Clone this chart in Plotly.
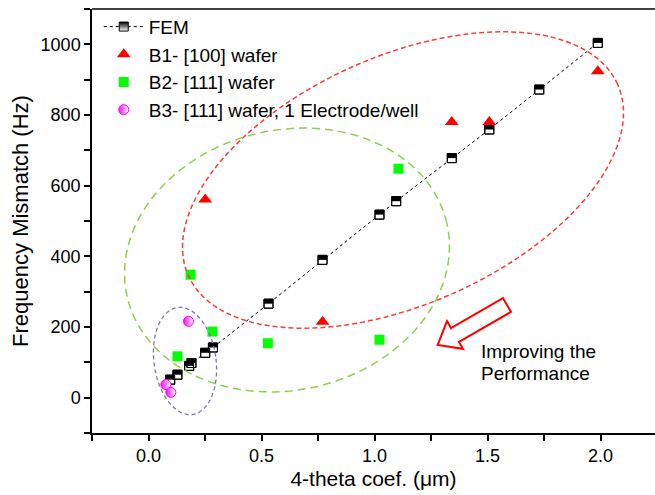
import numpy as np
import plotly.graph_objects as go

# ---------------- data ----------------
fem_x = [0.096, 0.128, 0.180, 0.190, 0.251, 0.285, 0.531, 0.770, 1.022, 1.096, 1.342, 1.508, 1.729, 1.988]
fem_y = [51, 65, 90, 98, 127, 142, 266, 390, 518, 556, 678, 759, 872, 1004]

b1_x = [0.251, 0.770, 1.342, 1.508, 1.988]
b1_y = [561, 215, 780, 780, 924]

b2_x = [0.128, 0.186, 0.283, 0.528, 1.022, 1.106]
b2_y = [117, 348, 187, 154, 164, 648]

b3_x = [0.077, 0.099, 0.177]
b3_y = [37, 15, 216]

x_tickvals = [-0.25, 0.0, 0.25, 0.5, 0.75, 1.0, 1.25, 1.5, 1.75, 2.0, 2.25]
x_ticktext = ["", "0.0", "", "0.5", "", "1.0", "", "1.5", "", "2.0", ""]
y_tickvals = list(range(-100, 1101, 100))
y_ticktext = [str(v) if v % 200 == 0 and 0 <= v <= 1000 else "" for v in y_tickvals]

legend_names = ["FEM", "B1- [100] wafer", "B2- [111] wafer", "B3- [111] wafer, 1 Electrode/well"]
note_lines = ["Improving the", "Performance"]

# ---------------- layout geometry ----------------
W, H = 655, 495
ML, MR, MT, MB = 92, 0, 9, 62
X0 = -0.25
SX = 226.0                      # px per x unit
X1 = X0 + (W - ML - MR) / SX
Y0, Y1 = -100, 1100
SY = (H - MT - MB) / (Y1 - Y0)  # px per y unit

FONT = "Liberation Sans, Arial, sans-serif"
FEM_SIZE = 9                    # marker size in px
HALF_UNITS = (FEM_SIZE / 2) / SY  # half marker height in y units (for top-half fill)


def px2data(px, py):
    return X0 + (px - ML) / SX, Y1 - (py - MT) / SY


def ellipse_path(cx, cy, a, b, theta_deg, n=120):
    th = np.radians(theta_deg)
    t = np.linspace(0, 2 * np.pi, n, endpoint=False)
    px = cx + a * np.cos(t) * np.cos(th) - b * np.sin(t) * np.sin(th)
    py = cy - (a * np.cos(t) * np.sin(th) + b * np.sin(t) * np.cos(th))
    pts = [px2data(u, v) for u, v in zip(px, py)]
    return "M " + " L ".join(f"{x:.5f},{y:.3f}" for x, y in pts) + " Z"


def arrow_path(tail, tip, shaft_hw, head_hw, head_len):
    tail = np.array(tail, float)
    tip = np.array(tip, float)
    u = (tip - tail) / np.linalg.norm(tip - tail)
    nrm = np.array([-u[1], u[0]])
    base = tip - head_len * u
    pts = [tail + shaft_hw * nrm, base + shaft_hw * nrm, base + head_hw * nrm, tip,
           base - head_hw * nrm, base - shaft_hw * nrm, tail - shaft_hw * nrm]
    d = [px2data(p[0], p[1]) for p in pts]
    return "M " + " L ".join(f"{x:.5f},{y:.3f}" for x, y in d) + " Z"


fig = go.Figure()

# legend-only entry for FEM (line + half-shaded square)
fig.add_trace(go.Scatter(
    x=[None], y=[None], mode="lines+markers", name=legend_names[0],
    line=dict(color="black", width=1, dash="dot"),
    marker=dict(symbol="square", size=FEM_SIZE, color="black",
                gradient=dict(type="vertical", color="white"),
                line=dict(color="black", width=1)),
))
# FEM line with white squares
fig.add_trace(go.Scatter(
    x=fem_x, y=fem_y, mode="lines+markers", showlegend=False,
    line=dict(color="black", width=1, dash="dot"),
    marker=dict(symbol="square", size=FEM_SIZE, color="white",
                line=dict(color="black", width=1)),
))
# top-half black fill (thick one-sided error bar) + outline on top
fig.add_trace(go.Scatter(
    x=fem_x, y=fem_y, mode="markers", showlegend=False, hoverinfo="skip",
    marker=dict(symbol="square", size=FEM_SIZE, color="rgba(0,0,0,0)",
                line=dict(color="black", width=1)),
    error_y=dict(type="data", symmetric=False, array=[HALF_UNITS] * len(fem_x),
                 arrayminus=[0] * len(fem_x), color="black", thickness=FEM_SIZE, width=0),
))
fig.add_trace(go.Scatter(
    x=b1_x, y=b1_y, mode="markers", name=legend_names[1],
    marker=dict(symbol="triangle-up", size=12, color="#ff0000"),
))
fig.add_trace(go.Scatter(
    x=b2_x, y=b2_y, mode="markers", name=legend_names[2],
    marker=dict(symbol="square", size=10, color="#00ff00"),
))
fig.add_trace(go.Scatter(
    x=b3_x, y=b3_y, mode="markers", name=legend_names[3],
    marker=dict(symbol="circle", size=10, color="#ff00ff",
                gradient=dict(type="horizontal", color="white"),
                line=dict(color="#ff00ff", width=1)),
))

shapes = [
    dict(type="path", xref="x", yref="y", path=ellipse_path(403, 180, 235, 124, 24),
         line=dict(color="#ff3b3b", width=1.5, dash="5px,3px")),
    dict(type="path", xref="x", yref="y", path=ellipse_path(287, 260, 164, 130, 13),
         line=dict(color="#8fd14f", width=1.5, dash="8px,5px")),
    dict(type="path", xref="x", yref="y", path=ellipse_path(185, 361, 31, 54, 8),
         line=dict(color="#7f72b0", width=1.3, dash="4px,3px")),
    dict(type="path", xref="x", yref="y",
         path=arrow_path((507, 305), (437.7, 345), 8, 16, 20),
         line=dict(color="#ff0000", width=2), fillcolor="white"),
    dict(type="line", xref="paper", yref="paper", x0=0, x1=1, y0=1, y1=1,
         line=dict(color="black", width=1.5)),
]

n1x, n1y = px2data(479, 351)
n2x, n2y = px2data(479, 373)

fig.update_layout(
    width=W, height=H,
    margin=dict(l=ML, r=MR, t=MT, b=MB),
    paper_bgcolor="white", plot_bgcolor="white",
    font=dict(family=FONT, color="black"),
    shapes=shapes,
    showlegend=True,
    legend=dict(x=0.012, y=1.003, xanchor="left", yanchor="top",
                bgcolor="rgba(0,0,0,0)", font=dict(size=19, family=FONT),
                itemwidth=40, tracegroupgap=0),
    annotations=[
        dict(x=n1x, y=n1y, xref="x", yref="y", xanchor="left", yanchor="middle",
             text=note_lines[0], showarrow=False, font=dict(size=19, family=FONT)),
        dict(x=n2x, y=n2y, xref="x", yref="y", xanchor="left", yanchor="middle",
             text=note_lines[1], showarrow=False, font=dict(size=19, family=FONT)),
    ],
    xaxis=dict(range=[X0, X1], tickvals=x_tickvals, ticktext=x_ticktext,
               showgrid=False, zeroline=False, showline=True, linecolor="black", linewidth=1.5,
               ticks="outside", ticklen=6, tickwidth=1.5, tickcolor="black",
               tickfont=dict(size=18), title=dict(text="4-theta coef. (\u03bcm)", font=dict(size=21), standoff=6)),
    yaxis=dict(range=[Y0, Y1], tickvals=y_tickvals, ticktext=y_ticktext,
               showgrid=False, zeroline=False, showline=True, linecolor="black", linewidth=1.5,
               ticks="outside", ticklen=6, tickwidth=1.5, tickcolor="black",
               tickfont=dict(size=18), title=dict(text="Frequency Mismatch (Hz)", font=dict(size=22), standoff=6)),
)

fig.write_html("out.html")
